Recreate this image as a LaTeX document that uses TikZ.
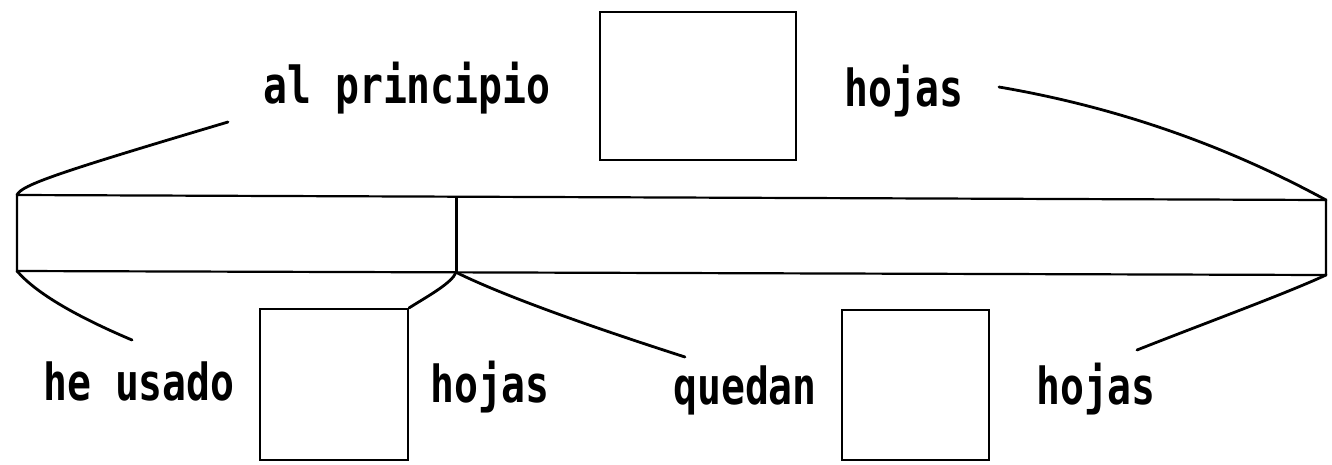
\documentclass[tikz,border=0pt]{standalone}
\usepackage{fontspec}
\newfontfamily\labelfont[FakeStretch=0.78]{DejaVu Sans Mono}
\begin{document}
\begin{tikzpicture}[x=1pt,y=-1pt,
  lbl/.style={font=\labelfont\bfseries\fontsize{51}{60}\selectfont, inner sep=0pt, anchor=base},
  blank/.style={draw, line width=2.2pt, inner sep=0pt},
  tapeline/.style={line width=2.2pt, line join=miter},
  divider/.style={line width=3pt},
  bracket/.style={line width=2.8pt, line cap=round}]
\useasboundingbox (0,0) rectangle (1332,464);

% tape corners and the split point
\coordinate (tl) at (17,195);
\coordinate (tr) at (1326,200);
\coordinate (br) at (1326,275);
\coordinate (bl) at (17,271);
\coordinate (st) at (456,196.7);
\coordinate (sb) at (456,272.3);

% the tape
\draw[tapeline] (tl) -- (tr) -- (br) -- (bl) -- cycle;
\draw[divider] (st) -- (sb);

% answer boxes
\node[blank, minimum width=196pt, minimum height=148pt] (total) at (698,86) {};
\node[blank, minimum width=148pt, minimum height=151pt] (used) at (334,384.5) {};
\node[blank, minimum width=147pt, minimum height=150pt] (left) at (915.5,385) {};

% labels
\node[lbl] (t1) at (407,103) {al principio};
\node[lbl] (t2) at (904,106) {hojas};
\node[lbl] (t3) at (139,400) {he usado};
\node[lbl] (t4) at (490,402) {hojas};
\node[lbl] (t5) at (745,404) {quedan};
\node[lbl] (t6) at (1096,404) {hojas};

% free ends of the brackets
\coordinate (e1) at (228,122);
\coordinate (e2) at (999,87);
\coordinate (e3) at (132,340);
\coordinate (e5) at (685,357);
\coordinate (e6) at (1137,350);

% brackets
\draw[bracket] (tl) .. controls (21,185) and (60,172) .. (e1);
\draw[bracket] (e2) .. controls (1116,107) and (1225,145) .. (tr);
\draw[bracket] (bl) .. controls (35,292) and (73,315) .. (e3);
\draw[bracket] (sb) .. controls (452,283) and (428,296) .. (used.north east);
\draw[bracket] (sb) .. controls (498,293) and (573,321) .. (e5);
\draw[bracket] (br) .. controls (1285,294) and (1200,325) .. (e6);
\end{tikzpicture}
\end{document}
